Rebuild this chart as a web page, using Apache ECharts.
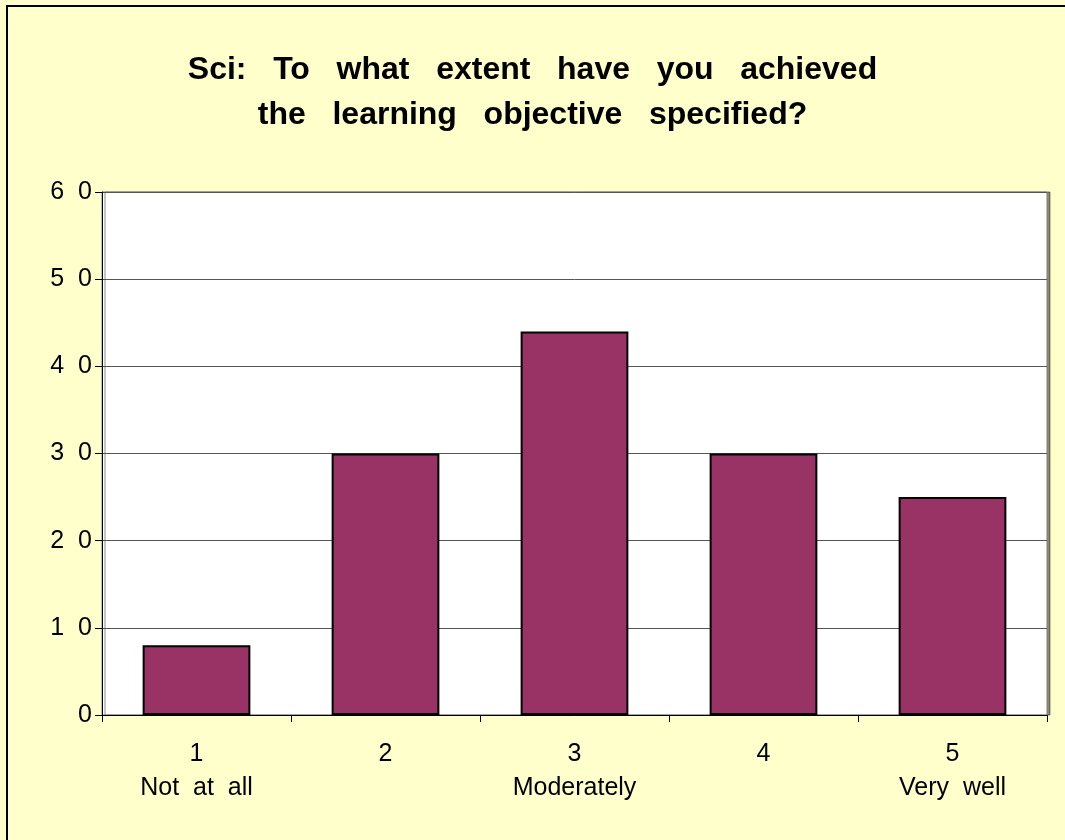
<!DOCTYPE html>
<html>
<head>
<meta charset="utf-8">
<script src="https://cdn.jsdelivr.net/npm/echarts@6/dist/echarts.min.js"></script>
<style>
  html, body { margin: 0; padding: 0; background: #FFFFCC; }
  #chart { width: 1065px; height: 840px; }
</style>
</head>
<body>
<div id="chart"></div>
<script>
var scores = ['1', '2', '3', '4', '5'];
var scoreNames = ['Not  at  all', '', 'Moderately', '', 'Very  well'];
var counts = [8, 30, 44, 30, 25];
var yTicks = [0, 10, 20, 30, 40, 50, 60];

var myChart = echarts.init(document.getElementById('chart'));

var cats = [];
for (var i = 0; i < scores.length; i++) {
    cats.push(scores[i] + '\n' + scoreNames[i]);
}

var option = {
    backgroundColor: '#FFFFCC',
    animation: false,
    title: {
        text: 'Sci:   To   what   extent   have   you   achieved\nthe   learning   objective   specified?',
        left: 'center',
        top: 43,
        textStyle: {
            fontFamily: 'Liberation Sans',
            fontWeight: 'bold',
            fontSize: 32,
            lineHeight: 45,
            color: '#000'
        }
    },
    graphic: [{
        type: 'rect',
        shape: { x: 7, y: 6, width: 1200, height: 1000 },
        style: { fill: 'none', stroke: '#000', lineWidth: 2 },
        z: 100
    }],
    grid: {
        left: 102,
        right: 18,
        top: 192,
        bottom: 125,
        show: true,
        backgroundColor: '#fff',
        borderColor: '#808080',
        borderWidth: 1,
        shadowColor: 'rgba(0,0,0,0.45)',
        shadowOffsetX: 3,
        shadowOffsetY: 0
    },
    xAxis: {
        type: 'category',
        data: cats,
        axisLine: { show: true, lineStyle: { color: '#000', width: 1 } },
        axisTick: { show: true, length: 7, lineStyle: { color: '#000' } },
        axisLabel: {
            fontFamily: 'Liberation Sans',
            fontSize: 25,
            lineHeight: 34,
            color: '#000',
            margin: 22
        },
        splitLine: { show: false }
    },
    yAxis: {
        type: 'value',
        min: yTicks[0],
        max: yTicks[yTicks.length - 1],
        interval: 10,
        axisLine: { show: true, lineStyle: { color: '#000' } },
        axisTick: { show: true, length: 7, lineStyle: { color: '#000' } },
        axisLabel: {
            fontFamily: 'Liberation Sans',
            fontSize: 25,
            color: '#000',
            margin: 10,
            formatter: function (v) { return String(v).split('').join('  '); }
        },
        splitLine: { show: true, lineStyle: { color: '#555', width: 1 } }
    },
    series: [{
        type: 'bar',
        data: counts,
        barCategoryGap: '43%',
        itemStyle: {
            color: '#993366',
            borderColor: '#000',
            borderWidth: 2
        }
    }]
};
myChart.setOption(option);
</script>
</body>
</html>
